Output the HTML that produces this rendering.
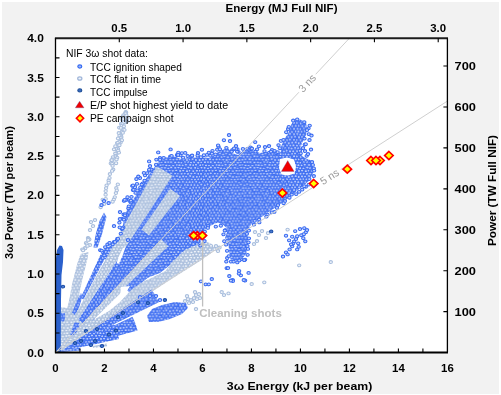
<!DOCTYPE html>
<html><head><meta charset="utf-8"><style>
html,body{margin:0;padding:0;background:#fff;}
body{width:501px;height:395px;overflow:hidden;position:relative;font-family:"Liberation Sans",sans-serif;}
#bg{position:absolute;left:2px;top:2px;width:497.4px;height:391.5px;background:#f2f2f2;}
svg{position:absolute;left:0;top:0;will-change:transform;}
.b{font-family:"Liberation Sans",sans-serif;font-weight:bold;font-size:11.4px;fill:#000;}
.t{font-family:"Liberation Sans",sans-serif;font-weight:bold;font-size:11.8px;fill:#000;}
.ns{font-family:"Liberation Sans",sans-serif;font-size:10.6px;fill:#999;}
.cl{font-family:"Liberation Sans",sans-serif;font-weight:bold;font-size:11.4px;fill:#bfbfbf;}
.l{font-family:"Liberation Sans",sans-serif;font-size:10.4px;fill:#000;}
</style></head><body><div id="bg"></div>
<svg width="501" height="395" viewBox="0 0 501 395">
<defs>
<clipPath id="pc"><rect x="55.5" y="38.2" width="391.90" height="314.40"/></clipPath>
</defs>
<rect x="55.5" y="38.2" width="391.90" height="314.40" fill="#fff"/>
<g clip-path="url(#pc)">
<defs><pattern id="pb" width="39.60" height="33.60" patternUnits="userSpaceOnUse">
<rect width="39.60" height="33.60" fill="#6f93f3"/><g fill="#c3d2fb" stroke="#3b6cf2" stroke-width="1.05">
<ellipse cx="26.7" cy="16.8" rx="1.65" ry="1.4"/>
<ellipse cx="36.7" cy="22.6" rx="1.65" ry="1.4"/>
<ellipse cx="33.4" cy="11.5" rx="1.65" ry="1.4"/>
<ellipse cx="29.7" cy="5.9" rx="1.65" ry="1.4"/>
<ellipse cx="30.9" cy="2.6" rx="1.65" ry="1.4"/>
<ellipse cx="1.2" cy="19.4" rx="1.65" ry="1.4"/>
<ellipse cx="40.8" cy="19.4" rx="1.65" ry="1.4"/>
<ellipse cx="23.0" cy="0.2" rx="1.65" ry="1.4"/>
<ellipse cx="23.0" cy="33.8" rx="1.65" ry="1.4"/>
<ellipse cx="0.4" cy="5.8" rx="1.65" ry="1.4"/>
<ellipse cx="40.0" cy="5.8" rx="1.65" ry="1.4"/>
<ellipse cx="15.1" cy="19.5" rx="1.65" ry="1.4"/>
<ellipse cx="7.7" cy="13.5" rx="1.65" ry="1.4"/>
<ellipse cx="16.1" cy="17.0" rx="1.65" ry="1.4"/>
<ellipse cx="20.1" cy="-0.5" rx="1.65" ry="1.4"/>
<ellipse cx="20.1" cy="33.1" rx="1.65" ry="1.4"/>
<ellipse cx="8.2" cy="2.8" rx="1.65" ry="1.4"/>
<ellipse cx="15.1" cy="25.3" rx="1.65" ry="1.4"/>
<ellipse cx="19.4" cy="5.7" rx="1.65" ry="1.4"/>
<ellipse cx="24.4" cy="13.8" rx="1.65" ry="1.4"/>
<ellipse cx="17.9" cy="2.3" rx="1.65" ry="1.4"/>
<ellipse cx="17.9" cy="35.9" rx="1.65" ry="1.4"/>
<ellipse cx="19.5" cy="22.2" rx="1.65" ry="1.4"/>
<ellipse cx="7.8" cy="24.8" rx="1.65" ry="1.4"/>
<ellipse cx="35.8" cy="27.7" rx="1.65" ry="1.4"/>
<ellipse cx="8.0" cy="20.0" rx="1.65" ry="1.4"/>
<ellipse cx="-1.8" cy="19.4" rx="1.65" ry="1.4"/>
<ellipse cx="37.8" cy="19.4" rx="1.65" ry="1.4"/>
<ellipse cx="22.8" cy="17.3" rx="1.65" ry="1.4"/>
<ellipse cx="36.6" cy="11.5" rx="1.65" ry="1.4"/>
<ellipse cx="5.1" cy="13.5" rx="1.65" ry="1.4"/>
<ellipse cx="26.3" cy="5.5" rx="1.65" ry="1.4"/>
<ellipse cx="25.9" cy="10.9" rx="1.65" ry="1.4"/>
<ellipse cx="26.1" cy="0.5" rx="1.65" ry="1.4"/>
<ellipse cx="26.1" cy="34.1" rx="1.65" ry="1.4"/>
<ellipse cx="21.3" cy="25.0" rx="1.65" ry="1.4"/>
<ellipse cx="8.0" cy="31.1" rx="1.65" ry="1.4"/>
<ellipse cx="28.3" cy="14.0" rx="1.65" ry="1.4"/>
<ellipse cx="3.1" cy="5.7" rx="1.65" ry="1.4"/>
<ellipse cx="-0.4" cy="0.4" rx="1.65" ry="1.4"/>
<ellipse cx="-0.4" cy="34.0" rx="1.65" ry="1.4"/>
<ellipse cx="39.2" cy="0.4" rx="1.65" ry="1.4"/>
<ellipse cx="39.2" cy="34.0" rx="1.65" ry="1.4"/>
<ellipse cx="30.9" cy="25.3" rx="1.65" ry="1.4"/>
<ellipse cx="1.1" cy="8.6" rx="1.65" ry="1.4"/>
<ellipse cx="40.7" cy="8.6" rx="1.65" ry="1.4"/>
<ellipse cx="22.9" cy="28.3" rx="1.65" ry="1.4"/>
<ellipse cx="19.8" cy="11.3" rx="1.65" ry="1.4"/>
<ellipse cx="-2.1" cy="25.6" rx="1.65" ry="1.4"/>
<ellipse cx="37.5" cy="25.6" rx="1.65" ry="1.4"/>
<ellipse cx="24.3" cy="31.0" rx="1.65" ry="1.4"/>
<ellipse cx="0.3" cy="11.2" rx="1.65" ry="1.4"/>
<ellipse cx="39.9" cy="11.2" rx="1.65" ry="1.4"/>
<ellipse cx="3.2" cy="22.1" rx="1.65" ry="1.4"/>
<ellipse cx="3.1" cy="28.1" rx="1.65" ry="1.4"/>
<ellipse cx="11.1" cy="-2.3" rx="1.65" ry="1.4"/>
<ellipse cx="11.1" cy="31.3" rx="1.65" ry="1.4"/>
<ellipse cx="11.3" cy="2.5" rx="1.65" ry="1.4"/>
<ellipse cx="29.9" cy="22.8" rx="1.65" ry="1.4"/>
<ellipse cx="10.1" cy="0.3" rx="1.65" ry="1.4"/>
<ellipse cx="10.1" cy="33.9" rx="1.65" ry="1.4"/>
<ellipse cx="32.5" cy="0.0" rx="1.65" ry="1.4"/>
<ellipse cx="32.5" cy="33.6" rx="1.65" ry="1.4"/>
<ellipse cx="29.9" cy="27.6" rx="1.65" ry="1.4"/>
<ellipse cx="9.9" cy="5.7" rx="1.65" ry="1.4"/>
<ellipse cx="18.6" cy="30.6" rx="1.65" ry="1.4"/>
<ellipse cx="9.7" cy="22.4" rx="1.65" ry="1.4"/>
<ellipse cx="23.6" cy="22.7" rx="1.65" ry="1.4"/>
<ellipse cx="27.8" cy="8.5" rx="1.65" ry="1.4"/>
<ellipse cx="-1.2" cy="8.7" rx="1.65" ry="1.4"/>
<ellipse cx="38.4" cy="8.7" rx="1.65" ry="1.4"/>
<ellipse cx="4.5" cy="30.4" rx="1.65" ry="1.4"/>
<ellipse cx="36.3" cy="5.1" rx="1.65" ry="1.4"/>
<ellipse cx="34.2" cy="24.7" rx="1.65" ry="1.4"/>
<ellipse cx="34.9" cy="19.6" rx="1.65" ry="1.4"/>
<ellipse cx="14.7" cy="-2.3" rx="1.65" ry="1.4"/>
<ellipse cx="14.7" cy="31.3" rx="1.65" ry="1.4"/>
<ellipse cx="10.0" cy="27.7" rx="1.65" ry="1.4"/>
<ellipse cx="13.2" cy="11.2" rx="1.65" ry="1.4"/>
<ellipse cx="26.8" cy="27.5" rx="1.65" ry="1.4"/>
<ellipse cx="34.8" cy="30.7" rx="1.65" ry="1.4"/>
<ellipse cx="12.8" cy="-0.5" rx="1.65" ry="1.4"/>
<ellipse cx="12.8" cy="33.1" rx="1.65" ry="1.4"/>
<ellipse cx="-0.4" cy="17.2" rx="1.65" ry="1.4"/>
<ellipse cx="39.2" cy="17.2" rx="1.65" ry="1.4"/>
<ellipse cx="7.0" cy="6.0" rx="1.65" ry="1.4"/>
<ellipse cx="14.5" cy="2.8" rx="1.65" ry="1.4"/>
<ellipse cx="5.5" cy="20.0" rx="1.65" ry="1.4"/>
<ellipse cx="13.0" cy="22.8" rx="1.65" ry="1.4"/>
<ellipse cx="4.4" cy="2.5" rx="1.65" ry="1.4"/>
<ellipse cx="4.4" cy="36.1" rx="1.65" ry="1.4"/>
<ellipse cx="25.2" cy="25.3" rx="1.65" ry="1.4"/>
<ellipse cx="12.0" cy="24.9" rx="1.65" ry="1.4"/>
<ellipse cx="21.8" cy="2.9" rx="1.65" ry="1.4"/>
<ellipse cx="11.3" cy="20.1" rx="1.65" ry="1.4"/>
<ellipse cx="9.4" cy="16.3" rx="1.65" ry="1.4"/>
<ellipse cx="34.9" cy="3.0" rx="1.65" ry="1.4"/>
<ellipse cx="18.0" cy="13.5" rx="1.65" ry="1.4"/>
<ellipse cx="17.9" cy="19.1" rx="1.65" ry="1.4"/>
<ellipse cx="18.5" cy="25.1" rx="1.65" ry="1.4"/>
<ellipse cx="27.5" cy="30.3" rx="1.65" ry="1.4"/>
<ellipse cx="26.2" cy="22.1" rx="1.65" ry="1.4"/>
<ellipse cx="24.9" cy="2.5" rx="1.65" ry="1.4"/>
<ellipse cx="24.9" cy="36.1" rx="1.65" ry="1.4"/>
<ellipse cx="1.4" cy="14.4" rx="1.65" ry="1.4"/>
<ellipse cx="41.0" cy="14.4" rx="1.65" ry="1.4"/>
<ellipse cx="32.6" cy="28.4" rx="1.65" ry="1.4"/>
<ellipse cx="31.9" cy="7.9" rx="1.65" ry="1.4"/>
<ellipse cx="5.5" cy="8.5" rx="1.65" ry="1.4"/>
<ellipse cx="3.6" cy="-0.3" rx="1.65" ry="1.4"/>
<ellipse cx="3.6" cy="33.3" rx="1.65" ry="1.4"/>
<ellipse cx="-1.9" cy="30.3" rx="1.65" ry="1.4"/>
<ellipse cx="37.7" cy="30.3" rx="1.65" ry="1.4"/>
<ellipse cx="12.7" cy="27.7" rx="1.65" ry="1.4"/>
<ellipse cx="21.9" cy="19.1" rx="1.65" ry="1.4"/>
<ellipse cx="31.8" cy="20.1" rx="1.65" ry="1.4"/>
<ellipse cx="34.1" cy="13.9" rx="1.65" ry="1.4"/>
<ellipse cx="33.0" cy="5.5" rx="1.65" ry="1.4"/>
<ellipse cx="30.1" cy="-0.5" rx="1.65" ry="1.4"/>
<ellipse cx="30.1" cy="33.1" rx="1.65" ry="1.4"/>
<ellipse cx="10.0" cy="10.9" rx="1.65" ry="1.4"/>
<ellipse cx="6.2" cy="22.6" rx="1.65" ry="1.4"/>
<ellipse cx="6.6" cy="-0.1" rx="1.65" ry="1.4"/>
<ellipse cx="6.6" cy="33.5" rx="1.65" ry="1.4"/>
<ellipse cx="31.9" cy="30.6" rx="1.65" ry="1.4"/>
<ellipse cx="33.5" cy="22.2" rx="1.65" ry="1.4"/>
<ellipse cx="6.9" cy="27.9" rx="1.65" ry="1.4"/>
<ellipse cx="12.8" cy="17.0" rx="1.65" ry="1.4"/>
<ellipse cx="4.7" cy="25.4" rx="1.65" ry="1.4"/>
<ellipse cx="2.2" cy="30.7" rx="1.65" ry="1.4"/>
<ellipse cx="41.8" cy="30.7" rx="1.65" ry="1.4"/>
<ellipse cx="31.2" cy="14.0" rx="1.65" ry="1.4"/>
<ellipse cx="1.3" cy="2.7" rx="1.65" ry="1.4"/>
<ellipse cx="40.9" cy="2.7" rx="1.65" ry="1.4"/>
<ellipse cx="21.5" cy="8.9" rx="1.65" ry="1.4"/>
<ellipse cx="23.3" cy="5.8" rx="1.65" ry="1.4"/>
<ellipse cx="8.1" cy="8.0" rx="1.65" ry="1.4"/>
<ellipse cx="6.7" cy="17.1" rx="1.65" ry="1.4"/>
<ellipse cx="1.6" cy="25.7" rx="1.65" ry="1.4"/>
<ellipse cx="41.2" cy="25.7" rx="1.65" ry="1.4"/>
<ellipse cx="16.9" cy="21.9" rx="1.65" ry="1.4"/>
<ellipse cx="15.1" cy="8.4" rx="1.65" ry="1.4"/>
<ellipse cx="-1.2" cy="2.7" rx="1.65" ry="1.4"/>
<ellipse cx="38.4" cy="2.7" rx="1.65" ry="1.4"/>
<ellipse cx="18.5" cy="8.1" rx="1.65" ry="1.4"/>
<ellipse cx="16.9" cy="-0.1" rx="1.65" ry="1.4"/>
<ellipse cx="16.9" cy="33.5" rx="1.65" ry="1.4"/>
<ellipse cx="11.6" cy="8.9" rx="1.65" ry="1.4"/>
<ellipse cx="3.4" cy="11.1" rx="1.65" ry="1.4"/>
<ellipse cx="16.8" cy="5.5" rx="1.65" ry="1.4"/>
<ellipse cx="24.8" cy="8.4" rx="1.65" ry="1.4"/>
<ellipse cx="32.9" cy="16.9" rx="1.65" ry="1.4"/>
<ellipse cx="3.3" cy="16.5" rx="1.65" ry="1.4"/>
<ellipse cx="36.1" cy="16.9" rx="1.65" ry="1.4"/>
<ellipse cx="20.3" cy="28.0" rx="1.65" ry="1.4"/>
<ellipse cx="29.3" cy="11.3" rx="1.65" ry="1.4"/>
<ellipse cx="-0.3" cy="22.6" rx="1.65" ry="1.4"/>
<ellipse cx="39.3" cy="22.6" rx="1.65" ry="1.4"/>
<ellipse cx="16.9" cy="28.1" rx="1.65" ry="1.4"/>
<ellipse cx="36.8" cy="-0.1" rx="1.65" ry="1.4"/>
<ellipse cx="36.8" cy="33.5" rx="1.65" ry="1.4"/>
<ellipse cx="-1.7" cy="13.7" rx="1.65" ry="1.4"/>
<ellipse cx="37.9" cy="13.7" rx="1.65" ry="1.4"/>
<ellipse cx="28.6" cy="3.2" rx="1.65" ry="1.4"/>
<ellipse cx="28.1" cy="19.2" rx="1.65" ry="1.4"/>
<ellipse cx="11.8" cy="13.7" rx="1.65" ry="1.4"/>
<ellipse cx="6.1" cy="11.6" rx="1.65" ry="1.4"/>
<ellipse cx="20.0" cy="16.8" rx="1.65" ry="1.4"/>
<ellipse cx="16.3" cy="11.0" rx="1.65" ry="1.4"/>
<ellipse cx="35.0" cy="8.8" rx="1.65" ry="1.4"/>
<ellipse cx="21.1" cy="14.0" rx="1.65" ry="1.4"/>
<ellipse cx="25.1" cy="20.1" rx="1.65" ry="1.4"/>
<ellipse cx="0.3" cy="28.4" rx="1.65" ry="1.4"/>
<ellipse cx="39.9" cy="28.4" rx="1.65" ry="1.4"/>
<ellipse cx="21.2" cy="30.8" rx="1.65" ry="1.4"/>
<ellipse cx="23.2" cy="11.2" rx="1.65" ry="1.4"/>
<ellipse cx="14.4" cy="14.1" rx="1.65" ry="1.4"/>
<ellipse cx="12.7" cy="5.3" rx="1.65" ry="1.4"/>
<ellipse cx="28.5" cy="25.6" rx="1.65" ry="1.4"/>
<ellipse cx="29.4" cy="17.0" rx="1.65" ry="1.4"/>
</g></pattern><pattern id="pg" width="39.60" height="33.60" patternUnits="userSpaceOnUse">
<rect width="39.60" height="33.60" fill="#c9d6ea"/><g fill="#f0f4fa" stroke="#a9bedd" stroke-width="1.05">
<ellipse cx="31.0" cy="8.8" rx="1.65" ry="1.4"/>
<ellipse cx="12.7" cy="16.4" rx="1.65" ry="1.4"/>
<ellipse cx="31.8" cy="13.6" rx="1.65" ry="1.4"/>
<ellipse cx="13.7" cy="28.4" rx="1.65" ry="1.4"/>
<ellipse cx="25.2" cy="31.1" rx="1.65" ry="1.4"/>
<ellipse cx="18.5" cy="8.6" rx="1.65" ry="1.4"/>
<ellipse cx="18.1" cy="30.8" rx="1.65" ry="1.4"/>
<ellipse cx="20.0" cy="5.6" rx="1.65" ry="1.4"/>
<ellipse cx="6.6" cy="28.0" rx="1.65" ry="1.4"/>
<ellipse cx="6.1" cy="11.0" rx="1.65" ry="1.4"/>
<ellipse cx="21.0" cy="24.8" rx="1.65" ry="1.4"/>
<ellipse cx="-1.3" cy="8.1" rx="1.65" ry="1.4"/>
<ellipse cx="38.3" cy="8.1" rx="1.65" ry="1.4"/>
<ellipse cx="12.7" cy="11.7" rx="1.65" ry="1.4"/>
<ellipse cx="8.4" cy="30.4" rx="1.65" ry="1.4"/>
<ellipse cx="25.0" cy="3.2" rx="1.65" ry="1.4"/>
<ellipse cx="-0.1" cy="22.4" rx="1.65" ry="1.4"/>
<ellipse cx="39.5" cy="22.4" rx="1.65" ry="1.4"/>
<ellipse cx="11.8" cy="19.3" rx="1.65" ry="1.4"/>
<ellipse cx="30.1" cy="5.3" rx="1.65" ry="1.4"/>
<ellipse cx="19.3" cy="22.6" rx="1.65" ry="1.4"/>
<ellipse cx="13.3" cy="0.1" rx="1.65" ry="1.4"/>
<ellipse cx="13.3" cy="33.7" rx="1.65" ry="1.4"/>
<ellipse cx="28.3" cy="3.1" rx="1.65" ry="1.4"/>
<ellipse cx="11.4" cy="2.4" rx="1.65" ry="1.4"/>
<ellipse cx="11.4" cy="36.0" rx="1.65" ry="1.4"/>
<ellipse cx="1.7" cy="8.4" rx="1.65" ry="1.4"/>
<ellipse cx="41.3" cy="8.4" rx="1.65" ry="1.4"/>
<ellipse cx="1.8" cy="14.3" rx="1.65" ry="1.4"/>
<ellipse cx="41.4" cy="14.3" rx="1.65" ry="1.4"/>
<ellipse cx="19.7" cy="-0.1" rx="1.65" ry="1.4"/>
<ellipse cx="19.7" cy="33.5" rx="1.65" ry="1.4"/>
<ellipse cx="8.0" cy="2.3" rx="1.65" ry="1.4"/>
<ellipse cx="8.0" cy="35.9" rx="1.65" ry="1.4"/>
<ellipse cx="33.5" cy="5.4" rx="1.65" ry="1.4"/>
<ellipse cx="14.4" cy="19.2" rx="1.65" ry="1.4"/>
<ellipse cx="17.9" cy="19.3" rx="1.65" ry="1.4"/>
<ellipse cx="29.6" cy="10.7" rx="1.65" ry="1.4"/>
<ellipse cx="16.0" cy="11.5" rx="1.65" ry="1.4"/>
<ellipse cx="-1.4" cy="3.0" rx="1.65" ry="1.4"/>
<ellipse cx="38.2" cy="3.0" rx="1.65" ry="1.4"/>
<ellipse cx="26.9" cy="28.1" rx="1.65" ry="1.4"/>
<ellipse cx="8.0" cy="8.1" rx="1.65" ry="1.4"/>
<ellipse cx="35.1" cy="30.8" rx="1.65" ry="1.4"/>
<ellipse cx="21.4" cy="13.7" rx="1.65" ry="1.4"/>
<ellipse cx="18.4" cy="25.1" rx="1.65" ry="1.4"/>
<ellipse cx="21.9" cy="3.1" rx="1.65" ry="1.4"/>
<ellipse cx="19.3" cy="10.9" rx="1.65" ry="1.4"/>
<ellipse cx="32.9" cy="22.4" rx="1.65" ry="1.4"/>
<ellipse cx="22.8" cy="5.4" rx="1.65" ry="1.4"/>
<ellipse cx="31.6" cy="30.5" rx="1.65" ry="1.4"/>
<ellipse cx="10.1" cy="-0.2" rx="1.65" ry="1.4"/>
<ellipse cx="10.1" cy="33.4" rx="1.65" ry="1.4"/>
<ellipse cx="11.3" cy="30.5" rx="1.65" ry="1.4"/>
<ellipse cx="3.6" cy="27.7" rx="1.65" ry="1.4"/>
<ellipse cx="9.9" cy="22.9" rx="1.65" ry="1.4"/>
<ellipse cx="14.9" cy="3.3" rx="1.65" ry="1.4"/>
<ellipse cx="1.2" cy="25.0" rx="1.65" ry="1.4"/>
<ellipse cx="40.8" cy="25.0" rx="1.65" ry="1.4"/>
<ellipse cx="36.3" cy="-0.2" rx="1.65" ry="1.4"/>
<ellipse cx="36.3" cy="33.4" rx="1.65" ry="1.4"/>
<ellipse cx="8.1" cy="19.2" rx="1.65" ry="1.4"/>
<ellipse cx="36.0" cy="22.5" rx="1.65" ry="1.4"/>
<ellipse cx="11.6" cy="8.9" rx="1.65" ry="1.4"/>
<ellipse cx="16.6" cy="-0.4" rx="1.65" ry="1.4"/>
<ellipse cx="16.6" cy="33.2" rx="1.65" ry="1.4"/>
<ellipse cx="17.0" cy="22.3" rx="1.65" ry="1.4"/>
<ellipse cx="33.5" cy="10.8" rx="1.65" ry="1.4"/>
<ellipse cx="33.1" cy="17.1" rx="1.65" ry="1.4"/>
<ellipse cx="26.1" cy="11.4" rx="1.65" ry="1.4"/>
<ellipse cx="27.6" cy="30.8" rx="1.65" ry="1.4"/>
<ellipse cx="16.6" cy="6.1" rx="1.65" ry="1.4"/>
<ellipse cx="31.2" cy="3.3" rx="1.65" ry="1.4"/>
<ellipse cx="11.8" cy="14.3" rx="1.65" ry="1.4"/>
<ellipse cx="25.0" cy="7.9" rx="1.65" ry="1.4"/>
<ellipse cx="16.3" cy="27.7" rx="1.65" ry="1.4"/>
<ellipse cx="3.4" cy="16.7" rx="1.65" ry="1.4"/>
<ellipse cx="26.9" cy="0.0" rx="1.65" ry="1.4"/>
<ellipse cx="26.9" cy="33.6" rx="1.65" ry="1.4"/>
<ellipse cx="26.1" cy="16.7" rx="1.65" ry="1.4"/>
<ellipse cx="0.5" cy="0.5" rx="1.65" ry="1.4"/>
<ellipse cx="0.5" cy="34.1" rx="1.65" ry="1.4"/>
<ellipse cx="40.1" cy="0.5" rx="1.65" ry="1.4"/>
<ellipse cx="40.1" cy="34.1" rx="1.65" ry="1.4"/>
<ellipse cx="28.2" cy="8.2" rx="1.65" ry="1.4"/>
<ellipse cx="29.6" cy="-0.3" rx="1.65" ry="1.4"/>
<ellipse cx="29.6" cy="33.3" rx="1.65" ry="1.4"/>
<ellipse cx="6.6" cy="6.0" rx="1.65" ry="1.4"/>
<ellipse cx="15.0" cy="31.0" rx="1.65" ry="1.4"/>
<ellipse cx="21.0" cy="30.8" rx="1.65" ry="1.4"/>
<ellipse cx="24.3" cy="25.6" rx="1.65" ry="1.4"/>
<ellipse cx="18.5" cy="14.2" rx="1.65" ry="1.4"/>
<ellipse cx="26.6" cy="5.2" rx="1.65" ry="1.4"/>
<ellipse cx="4.5" cy="13.8" rx="1.65" ry="1.4"/>
<ellipse cx="23.4" cy="10.8" rx="1.65" ry="1.4"/>
<ellipse cx="30.0" cy="27.6" rx="1.65" ry="1.4"/>
<ellipse cx="18.3" cy="2.5" rx="1.65" ry="1.4"/>
<ellipse cx="18.3" cy="36.1" rx="1.65" ry="1.4"/>
<ellipse cx="19.8" cy="17.3" rx="1.65" ry="1.4"/>
<ellipse cx="7.7" cy="13.9" rx="1.65" ry="1.4"/>
<ellipse cx="11.2" cy="25.3" rx="1.65" ry="1.4"/>
<ellipse cx="6.1" cy="16.9" rx="1.65" ry="1.4"/>
<ellipse cx="9.5" cy="16.3" rx="1.65" ry="1.4"/>
<ellipse cx="36.8" cy="5.8" rx="1.65" ry="1.4"/>
<ellipse cx="3.3" cy="6.1" rx="1.65" ry="1.4"/>
<ellipse cx="-1.6" cy="13.6" rx="1.65" ry="1.4"/>
<ellipse cx="38.0" cy="13.6" rx="1.65" ry="1.4"/>
<ellipse cx="21.5" cy="19.6" rx="1.65" ry="1.4"/>
<ellipse cx="34.8" cy="25.5" rx="1.65" ry="1.4"/>
<ellipse cx="34.6" cy="19.6" rx="1.65" ry="1.4"/>
<ellipse cx="3.2" cy="11.4" rx="1.65" ry="1.4"/>
<ellipse cx="16.1" cy="16.9" rx="1.65" ry="1.4"/>
<ellipse cx="0.5" cy="16.5" rx="1.65" ry="1.4"/>
<ellipse cx="40.1" cy="16.5" rx="1.65" ry="1.4"/>
<ellipse cx="31.9" cy="19.9" rx="1.65" ry="1.4"/>
<ellipse cx="9.7" cy="6.0" rx="1.65" ry="1.4"/>
<ellipse cx="7.8" cy="25.5" rx="1.65" ry="1.4"/>
<ellipse cx="7.0" cy="0.3" rx="1.65" ry="1.4"/>
<ellipse cx="7.0" cy="33.9" rx="1.65" ry="1.4"/>
<ellipse cx="1.5" cy="3.2" rx="1.65" ry="1.4"/>
<ellipse cx="41.1" cy="3.2" rx="1.65" ry="1.4"/>
<ellipse cx="35.2" cy="2.4" rx="1.65" ry="1.4"/>
<ellipse cx="35.2" cy="36.0" rx="1.65" ry="1.4"/>
<ellipse cx="36.5" cy="16.5" rx="1.65" ry="1.4"/>
<ellipse cx="35.9" cy="27.9" rx="1.65" ry="1.4"/>
<ellipse cx="19.8" cy="27.7" rx="1.65" ry="1.4"/>
<ellipse cx="24.9" cy="13.8" rx="1.65" ry="1.4"/>
<ellipse cx="35.8" cy="11.0" rx="1.65" ry="1.4"/>
<ellipse cx="15.0" cy="7.9" rx="1.65" ry="1.4"/>
<ellipse cx="2.8" cy="-0.5" rx="1.65" ry="1.4"/>
<ellipse cx="2.8" cy="33.1" rx="1.65" ry="1.4"/>
<ellipse cx="29.4" cy="16.9" rx="1.65" ry="1.4"/>
<ellipse cx="-0.3" cy="11.6" rx="1.65" ry="1.4"/>
<ellipse cx="39.3" cy="11.6" rx="1.65" ry="1.4"/>
<ellipse cx="4.4" cy="19.1" rx="1.65" ry="1.4"/>
<ellipse cx="31.6" cy="24.7" rx="1.65" ry="1.4"/>
<ellipse cx="9.5" cy="11.4" rx="1.65" ry="1.4"/>
<ellipse cx="-0.0" cy="5.6" rx="1.65" ry="1.4"/>
<ellipse cx="39.6" cy="5.6" rx="1.65" ry="1.4"/>
<ellipse cx="23.6" cy="17.3" rx="1.65" ry="1.4"/>
<ellipse cx="27.6" cy="13.9" rx="1.65" ry="1.4"/>
<ellipse cx="13.6" cy="5.6" rx="1.65" ry="1.4"/>
<ellipse cx="23.0" cy="28.2" rx="1.65" ry="1.4"/>
<ellipse cx="4.8" cy="25.7" rx="1.65" ry="1.4"/>
<ellipse cx="26.8" cy="22.6" rx="1.65" ry="1.4"/>
<ellipse cx="2.9" cy="22.0" rx="1.65" ry="1.4"/>
<ellipse cx="32.5" cy="-0.5" rx="1.65" ry="1.4"/>
<ellipse cx="32.5" cy="33.1" rx="1.65" ry="1.4"/>
<ellipse cx="1.6" cy="19.6" rx="1.65" ry="1.4"/>
<ellipse cx="41.2" cy="19.6" rx="1.65" ry="1.4"/>
<ellipse cx="28.2" cy="25.7" rx="1.65" ry="1.4"/>
<ellipse cx="-1.6" cy="19.1" rx="1.65" ry="1.4"/>
<ellipse cx="38.0" cy="19.1" rx="1.65" ry="1.4"/>
<ellipse cx="-1.4" cy="30.7" rx="1.65" ry="1.4"/>
<ellipse cx="38.2" cy="30.7" rx="1.65" ry="1.4"/>
<ellipse cx="21.9" cy="8.1" rx="1.65" ry="1.4"/>
<ellipse cx="1.2" cy="30.3" rx="1.65" ry="1.4"/>
<ellipse cx="40.8" cy="30.3" rx="1.65" ry="1.4"/>
<ellipse cx="5.4" cy="-2.3" rx="1.65" ry="1.4"/>
<ellipse cx="5.4" cy="31.3" rx="1.65" ry="1.4"/>
<ellipse cx="27.7" cy="20.0" rx="1.65" ry="1.4"/>
<ellipse cx="-0.2" cy="28.0" rx="1.65" ry="1.4"/>
<ellipse cx="39.4" cy="28.0" rx="1.65" ry="1.4"/>
<ellipse cx="29.2" cy="22.3" rx="1.65" ry="1.4"/>
<ellipse cx="15.3" cy="14.3" rx="1.65" ry="1.4"/>
<ellipse cx="22.7" cy="22.2" rx="1.65" ry="1.4"/>
<ellipse cx="34.7" cy="13.9" rx="1.65" ry="1.4"/>
<ellipse cx="10.4" cy="28.3" rx="1.65" ry="1.4"/>
<ellipse cx="5.0" cy="2.9" rx="1.65" ry="1.4"/>
<ellipse cx="32.8" cy="28.5" rx="1.65" ry="1.4"/>
<ellipse cx="13.3" cy="22.2" rx="1.65" ry="1.4"/>
<ellipse cx="34.2" cy="8.4" rx="1.65" ry="1.4"/>
<ellipse cx="6.9" cy="22.3" rx="1.65" ry="1.4"/>
<ellipse cx="23.3" cy="0.5" rx="1.65" ry="1.4"/>
<ellipse cx="23.3" cy="34.1" rx="1.65" ry="1.4"/>
<ellipse cx="14.7" cy="25.2" rx="1.65" ry="1.4"/>
<ellipse cx="-1.4" cy="25.2" rx="1.65" ry="1.4"/>
<ellipse cx="38.2" cy="25.2" rx="1.65" ry="1.4"/>
<ellipse cx="5.1" cy="8.5" rx="1.65" ry="1.4"/>
<ellipse cx="24.5" cy="19.8" rx="1.65" ry="1.4"/>
</g></pattern><pattern id="pd" width="39.60" height="33.60" patternUnits="userSpaceOnUse">
<rect width="39.60" height="33.60" fill="#2f62c0"/><g fill="#4a7ad0" stroke="#1c4ea8" stroke-width="1.05">
<ellipse cx="6.7" cy="-0.5" rx="1.65" ry="1.4"/>
<ellipse cx="6.7" cy="33.1" rx="1.65" ry="1.4"/>
<ellipse cx="15.3" cy="8.9" rx="1.65" ry="1.4"/>
<ellipse cx="28.1" cy="31.0" rx="1.65" ry="1.4"/>
<ellipse cx="10.1" cy="16.4" rx="1.65" ry="1.4"/>
<ellipse cx="1.2" cy="30.4" rx="1.65" ry="1.4"/>
<ellipse cx="40.8" cy="30.4" rx="1.65" ry="1.4"/>
<ellipse cx="10.0" cy="11.3" rx="1.65" ry="1.4"/>
<ellipse cx="28.4" cy="24.7" rx="1.65" ry="1.4"/>
<ellipse cx="21.4" cy="19.5" rx="1.65" ry="1.4"/>
<ellipse cx="21.1" cy="25.5" rx="1.65" ry="1.4"/>
<ellipse cx="14.7" cy="3.1" rx="1.65" ry="1.4"/>
<ellipse cx="16.9" cy="5.7" rx="1.65" ry="1.4"/>
<ellipse cx="23.6" cy="11.2" rx="1.65" ry="1.4"/>
<ellipse cx="8.5" cy="14.3" rx="1.65" ry="1.4"/>
<ellipse cx="0.1" cy="6.0" rx="1.65" ry="1.4"/>
<ellipse cx="39.7" cy="6.0" rx="1.65" ry="1.4"/>
<ellipse cx="13.7" cy="28.4" rx="1.65" ry="1.4"/>
<ellipse cx="-0.3" cy="0.0" rx="1.65" ry="1.4"/>
<ellipse cx="-0.3" cy="33.6" rx="1.65" ry="1.4"/>
<ellipse cx="39.3" cy="0.0" rx="1.65" ry="1.4"/>
<ellipse cx="39.3" cy="33.6" rx="1.65" ry="1.4"/>
<ellipse cx="11.8" cy="8.2" rx="1.65" ry="1.4"/>
<ellipse cx="14.8" cy="30.7" rx="1.65" ry="1.4"/>
<ellipse cx="31.5" cy="2.6" rx="1.65" ry="1.4"/>
<ellipse cx="29.2" cy="22.7" rx="1.65" ry="1.4"/>
<ellipse cx="-0.1" cy="28.0" rx="1.65" ry="1.4"/>
<ellipse cx="39.5" cy="28.0" rx="1.65" ry="1.4"/>
<ellipse cx="29.4" cy="27.8" rx="1.65" ry="1.4"/>
<ellipse cx="32.6" cy="28.1" rx="1.65" ry="1.4"/>
<ellipse cx="3.5" cy="22.4" rx="1.65" ry="1.4"/>
<ellipse cx="19.5" cy="11.0" rx="1.65" ry="1.4"/>
<ellipse cx="21.2" cy="7.9" rx="1.65" ry="1.4"/>
<ellipse cx="17.0" cy="-0.0" rx="1.65" ry="1.4"/>
<ellipse cx="17.0" cy="33.6" rx="1.65" ry="1.4"/>
<ellipse cx="36.4" cy="10.7" rx="1.65" ry="1.4"/>
<ellipse cx="16.8" cy="21.9" rx="1.65" ry="1.4"/>
<ellipse cx="31.1" cy="13.9" rx="1.65" ry="1.4"/>
<ellipse cx="25.2" cy="25.5" rx="1.65" ry="1.4"/>
<ellipse cx="36.2" cy="5.2" rx="1.65" ry="1.4"/>
<ellipse cx="4.8" cy="30.9" rx="1.65" ry="1.4"/>
<ellipse cx="11.0" cy="13.5" rx="1.65" ry="1.4"/>
<ellipse cx="-1.2" cy="19.3" rx="1.65" ry="1.4"/>
<ellipse cx="38.4" cy="19.3" rx="1.65" ry="1.4"/>
<ellipse cx="31.5" cy="8.0" rx="1.65" ry="1.4"/>
<ellipse cx="8.6" cy="30.7" rx="1.65" ry="1.4"/>
<ellipse cx="21.9" cy="2.4" rx="1.65" ry="1.4"/>
<ellipse cx="21.9" cy="36.0" rx="1.65" ry="1.4"/>
<ellipse cx="32.5" cy="5.9" rx="1.65" ry="1.4"/>
<ellipse cx="9.5" cy="27.5" rx="1.65" ry="1.4"/>
<ellipse cx="21.6" cy="13.8" rx="1.65" ry="1.4"/>
<ellipse cx="26.8" cy="16.7" rx="1.65" ry="1.4"/>
<ellipse cx="3.3" cy="11.2" rx="1.65" ry="1.4"/>
<ellipse cx="21.4" cy="31.0" rx="1.65" ry="1.4"/>
<ellipse cx="31.8" cy="20.1" rx="1.65" ry="1.4"/>
<ellipse cx="18.1" cy="3.3" rx="1.65" ry="1.4"/>
<ellipse cx="26.5" cy="0.4" rx="1.65" ry="1.4"/>
<ellipse cx="26.5" cy="34.0" rx="1.65" ry="1.4"/>
<ellipse cx="23.6" cy="22.8" rx="1.65" ry="1.4"/>
<ellipse cx="34.1" cy="8.8" rx="1.65" ry="1.4"/>
<ellipse cx="5.4" cy="7.9" rx="1.65" ry="1.4"/>
<ellipse cx="13.6" cy="6.1" rx="1.65" ry="1.4"/>
<ellipse cx="30.1" cy="6.1" rx="1.65" ry="1.4"/>
<ellipse cx="32.6" cy="22.2" rx="1.65" ry="1.4"/>
<ellipse cx="27.9" cy="14.1" rx="1.65" ry="1.4"/>
<ellipse cx="16.9" cy="16.7" rx="1.65" ry="1.4"/>
<ellipse cx="36.6" cy="17.2" rx="1.65" ry="1.4"/>
<ellipse cx="20.2" cy="-0.0" rx="1.65" ry="1.4"/>
<ellipse cx="20.2" cy="33.6" rx="1.65" ry="1.4"/>
<ellipse cx="3.6" cy="16.5" rx="1.65" ry="1.4"/>
<ellipse cx="11.5" cy="25.5" rx="1.65" ry="1.4"/>
<ellipse cx="26.5" cy="10.7" rx="1.65" ry="1.4"/>
<ellipse cx="29.6" cy="11.3" rx="1.65" ry="1.4"/>
<ellipse cx="3.5" cy="6.1" rx="1.65" ry="1.4"/>
<ellipse cx="18.2" cy="25.5" rx="1.65" ry="1.4"/>
<ellipse cx="24.3" cy="2.5" rx="1.65" ry="1.4"/>
<ellipse cx="24.3" cy="36.1" rx="1.65" ry="1.4"/>
<ellipse cx="8.0" cy="25.6" rx="1.65" ry="1.4"/>
<ellipse cx="15.2" cy="19.3" rx="1.65" ry="1.4"/>
<ellipse cx="28.6" cy="2.7" rx="1.65" ry="1.4"/>
<ellipse cx="13.7" cy="11.2" rx="1.65" ry="1.4"/>
<ellipse cx="5.3" cy="19.8" rx="1.65" ry="1.4"/>
<ellipse cx="15.0" cy="14.5" rx="1.65" ry="1.4"/>
<ellipse cx="6.1" cy="27.6" rx="1.65" ry="1.4"/>
<ellipse cx="33.2" cy="-0.5" rx="1.65" ry="1.4"/>
<ellipse cx="33.2" cy="33.1" rx="1.65" ry="1.4"/>
<ellipse cx="16.4" cy="11.4" rx="1.65" ry="1.4"/>
<ellipse cx="-1.6" cy="14.3" rx="1.65" ry="1.4"/>
<ellipse cx="38.0" cy="14.3" rx="1.65" ry="1.4"/>
<ellipse cx="27.7" cy="8.3" rx="1.65" ry="1.4"/>
<ellipse cx="22.9" cy="17.0" rx="1.65" ry="1.4"/>
<ellipse cx="13.0" cy="16.6" rx="1.65" ry="1.4"/>
<ellipse cx="-1.9" cy="8.9" rx="1.65" ry="1.4"/>
<ellipse cx="37.7" cy="8.9" rx="1.65" ry="1.4"/>
<ellipse cx="26.2" cy="5.1" rx="1.65" ry="1.4"/>
<ellipse cx="6.8" cy="11.3" rx="1.65" ry="1.4"/>
<ellipse cx="20.2" cy="16.4" rx="1.65" ry="1.4"/>
<ellipse cx="32.5" cy="11.3" rx="1.65" ry="1.4"/>
<ellipse cx="24.7" cy="30.5" rx="1.65" ry="1.4"/>
<ellipse cx="33.0" cy="16.5" rx="1.65" ry="1.4"/>
<ellipse cx="11.1" cy="19.4" rx="1.65" ry="1.4"/>
<ellipse cx="18.1" cy="31.0" rx="1.65" ry="1.4"/>
<ellipse cx="29.7" cy="0.3" rx="1.65" ry="1.4"/>
<ellipse cx="29.7" cy="33.9" rx="1.65" ry="1.4"/>
<ellipse cx="22.9" cy="28.2" rx="1.65" ry="1.4"/>
<ellipse cx="13.3" cy="22.2" rx="1.65" ry="1.4"/>
<ellipse cx="18.2" cy="8.9" rx="1.65" ry="1.4"/>
<ellipse cx="27.5" cy="20.1" rx="1.65" ry="1.4"/>
<ellipse cx="23.3" cy="-0.4" rx="1.65" ry="1.4"/>
<ellipse cx="23.3" cy="33.2" rx="1.65" ry="1.4"/>
<ellipse cx="34.6" cy="20.1" rx="1.65" ry="1.4"/>
<ellipse cx="16.0" cy="28.0" rx="1.65" ry="1.4"/>
<ellipse cx="34.9" cy="13.5" rx="1.65" ry="1.4"/>
<ellipse cx="5.4" cy="2.8" rx="1.65" ry="1.4"/>
<ellipse cx="20.0" cy="5.3" rx="1.65" ry="1.4"/>
<ellipse cx="25.2" cy="19.2" rx="1.65" ry="1.4"/>
<ellipse cx="34.6" cy="-2.4" rx="1.65" ry="1.4"/>
<ellipse cx="34.6" cy="31.2" rx="1.65" ry="1.4"/>
<ellipse cx="17.9" cy="14.0" rx="1.65" ry="1.4"/>
<ellipse cx="19.6" cy="27.8" rx="1.65" ry="1.4"/>
<ellipse cx="6.4" cy="22.2" rx="1.65" ry="1.4"/>
<ellipse cx="12.9" cy="-0.3" rx="1.65" ry="1.4"/>
<ellipse cx="12.9" cy="33.3" rx="1.65" ry="1.4"/>
<ellipse cx="26.5" cy="27.8" rx="1.65" ry="1.4"/>
<ellipse cx="20.2" cy="22.6" rx="1.65" ry="1.4"/>
<ellipse cx="8.4" cy="7.9" rx="1.65" ry="1.4"/>
<ellipse cx="6.3" cy="16.7" rx="1.65" ry="1.4"/>
<ellipse cx="36.5" cy="27.9" rx="1.65" ry="1.4"/>
<ellipse cx="18.0" cy="19.5" rx="1.65" ry="1.4"/>
<ellipse cx="31.5" cy="25.6" rx="1.65" ry="1.4"/>
<ellipse cx="5.1" cy="13.8" rx="1.65" ry="1.4"/>
<ellipse cx="8.6" cy="19.4" rx="1.65" ry="1.4"/>
<ellipse cx="8.5" cy="3.2" rx="1.65" ry="1.4"/>
<ellipse cx="1.6" cy="25.7" rx="1.65" ry="1.4"/>
<ellipse cx="41.2" cy="25.7" rx="1.65" ry="1.4"/>
<ellipse cx="-1.9" cy="25.2" rx="1.65" ry="1.4"/>
<ellipse cx="37.7" cy="25.2" rx="1.65" ry="1.4"/>
<ellipse cx="11.8" cy="3.3" rx="1.65" ry="1.4"/>
<ellipse cx="5.1" cy="25.0" rx="1.65" ry="1.4"/>
<ellipse cx="36.5" cy="22.4" rx="1.65" ry="1.4"/>
<ellipse cx="24.9" cy="7.9" rx="1.65" ry="1.4"/>
<ellipse cx="9.4" cy="0.4" rx="1.65" ry="1.4"/>
<ellipse cx="9.4" cy="34.0" rx="1.65" ry="1.4"/>
<ellipse cx="26.8" cy="22.5" rx="1.65" ry="1.4"/>
<ellipse cx="34.7" cy="2.7" rx="1.65" ry="1.4"/>
<ellipse cx="0.4" cy="11.1" rx="1.65" ry="1.4"/>
<ellipse cx="40.0" cy="11.1" rx="1.65" ry="1.4"/>
<ellipse cx="14.7" cy="24.9" rx="1.65" ry="1.4"/>
<ellipse cx="1.3" cy="19.4" rx="1.65" ry="1.4"/>
<ellipse cx="40.9" cy="19.4" rx="1.65" ry="1.4"/>
<ellipse cx="1.4" cy="2.3" rx="1.65" ry="1.4"/>
<ellipse cx="1.4" cy="35.9" rx="1.65" ry="1.4"/>
<ellipse cx="41.0" cy="2.3" rx="1.65" ry="1.4"/>
<ellipse cx="41.0" cy="35.9" rx="1.65" ry="1.4"/>
<ellipse cx="-0.2" cy="16.5" rx="1.65" ry="1.4"/>
<ellipse cx="39.4" cy="16.5" rx="1.65" ry="1.4"/>
<ellipse cx="-1.8" cy="2.9" rx="1.65" ry="1.4"/>
<ellipse cx="37.8" cy="2.9" rx="1.65" ry="1.4"/>
<ellipse cx="36.6" cy="0.1" rx="1.65" ry="1.4"/>
<ellipse cx="36.6" cy="33.7" rx="1.65" ry="1.4"/>
<ellipse cx="9.6" cy="21.9" rx="1.65" ry="1.4"/>
<ellipse cx="1.8" cy="14.0" rx="1.65" ry="1.4"/>
<ellipse cx="41.4" cy="14.0" rx="1.65" ry="1.4"/>
<ellipse cx="1.4" cy="8.7" rx="1.65" ry="1.4"/>
<ellipse cx="41.0" cy="8.7" rx="1.65" ry="1.4"/>
<ellipse cx="3.6" cy="27.5" rx="1.65" ry="1.4"/>
<ellipse cx="3.2" cy="0.1" rx="1.65" ry="1.4"/>
<ellipse cx="3.2" cy="33.7" rx="1.65" ry="1.4"/>
<ellipse cx="7.0" cy="6.1" rx="1.65" ry="1.4"/>
<ellipse cx="29.4" cy="16.4" rx="1.65" ry="1.4"/>
<ellipse cx="10.1" cy="5.2" rx="1.65" ry="1.4"/>
<ellipse cx="0.3" cy="22.8" rx="1.65" ry="1.4"/>
<ellipse cx="39.9" cy="22.8" rx="1.65" ry="1.4"/>
<ellipse cx="11.9" cy="30.9" rx="1.65" ry="1.4"/>
<ellipse cx="30.9" cy="30.7" rx="1.65" ry="1.4"/>
<ellipse cx="34.2" cy="24.9" rx="1.65" ry="1.4"/>
<ellipse cx="23.5" cy="5.7" rx="1.65" ry="1.4"/>
<ellipse cx="24.6" cy="13.8" rx="1.65" ry="1.4"/>
<ellipse cx="-1.2" cy="30.7" rx="1.65" ry="1.4"/>
<ellipse cx="38.4" cy="30.7" rx="1.65" ry="1.4"/>
</g></pattern><ellipse id="mb" rx="1.65" ry="1.4" fill="#c3d2fb" stroke="#3b6cf2" stroke-width="1.05"/><ellipse id="mg" rx="1.65" ry="1.4" fill="#f0f4fa" stroke="#a9bedd" stroke-width="1.05"/><ellipse id="md" rx="1.65" ry="1.4" fill="#4a7ad0" stroke="#1c4ea8" stroke-width="1.05"/></defs>
<polygon points="119.4,286.6 112.0,270.0 101.0,252.0 107.0,247.0 113.0,245.0 118.0,239.0 122.4,228.4 124.0,219.0 127.0,210.0 131.5,202.6 136.0,195.0 145.0,180.0 158.8,161.0 166.0,157.5 174.8,156.5 181.0,159.0 190.0,158.0 200.0,157.0 210.0,158.0 218.0,152.0 222.0,150.0 228.0,148.0 232.0,153.0 238.0,155.0 244.0,150.0 252.0,150.0 260.0,153.0 266.0,152.0 274.0,152.0 280.0,154.0 280.5,156.6 281.0,147.0 283.5,140.0 288.5,133.0 291.0,125.0 294.0,120.0 300.0,119.5 306.0,122.0 307.0,128.0 306.0,135.0 303.0,141.0 300.5,147.0 300.0,154.0 305.0,158.0 310.0,160.0 314.5,170.0 309.0,181.0 298.3,189.8 287.5,198.7 274.9,207.7 258.7,219.0 252.0,223.0 247.4,231.0 248.0,240.0 246.5,252.8 242.0,259.6 236.0,261.0 230.6,259.6 229.4,252.8 228.3,243.7 225.0,238.0 227.9,229.5 223.7,225.3 218.0,222.5 214.0,224.0 208.4,226.7 205.6,229.5 204.0,235.0 199.0,246.0 191.0,250.0 183.0,255.0 175.0,261.0 167.7,267.0 160.0,273.0 147.0,278.0 135.0,283.0 124.6,284.0" fill="url(#pb)" />
<polygon points="55.5,352.6 94.1,327.5 90.0,322.1 85.1,317.4 79.5,313.4 73.5,310.3 67.0,308.1 60.3,306.9 55.5,352.6" fill="url(#pg)" />
<polygon points="55.5,352.6 99.5,343.2 98.9,340.6 98.0,337.9 97.1,335.4 95.9,332.9 94.7,330.4 93.2,328.1 55.5,352.6" fill="url(#pb)" />
<polygon points="55.5,352.6 80.4,350.4 80.4,349.9 80.3,349.4 80.2,348.9 80.1,348.4 80.1,347.9 80.0,347.4 55.5,352.6" fill="url(#pb)" />
<polygon points="66.0,327.0 72.0,322.0 79.0,323.0 80.0,333.0 72.0,337.0" fill="url(#pb)" />
<polygon points="61.0,313.0 65.0,313.0 65.0,321.0 61.0,322.0" fill="url(#pb)" />
<polygon points="84.0,313.0 95.0,313.0 95.0,326.0 88.0,327.0" fill="url(#pb)" />
<polygon points="82.8,323.3 151.0,250.2 148.3,247.7 145.5,245.4 142.7,243.0 139.8,240.8 136.8,238.6 133.8,236.5 77.9,319.4 78.7,320.0 79.6,320.7 80.4,321.3 81.2,322.0 82.0,322.6" fill="url(#pb)" />
<polygon points="58.0,345.0 62.0,330.0 66.0,313.0 69.2,299.8 72.2,283.6 77.3,263.4 80.5,254.0 88.5,252.0 87.4,259.3 82.3,279.6 79.3,293.8 77.3,313.0 72.0,330.0 63.0,350.0" fill="url(#pg)" />
<polygon points="72.0,313.0 77.0,300.0 81.0,293.0 82.5,296.0 79.0,308.0 75.0,315.0" fill="url(#pb)" />
<polygon points="93.5,247.5 97.5,247.5 101.5,236.0 106.5,217.0 104.0,212.5 99.5,221.0 95.5,235.0" fill="url(#pb)" />
<polygon points="83.4,299.5 107.6,253.4 106.7,253.0 105.8,252.5 104.9,252.1 104.1,251.7 103.2,251.3 102.3,250.8 80.6,298.1 81.0,298.3 81.5,298.5 82.0,298.8 82.5,299.0 82.9,299.2" fill="url(#pb)" />
<polygon points="78.4,319.8 172.5,175.8 169.9,174.1 167.3,172.5 164.7,170.9 162.0,169.3 159.4,167.8 156.7,166.3 74.0,317.1 74.7,317.5 75.5,318.0 76.3,318.4 77.0,318.9 77.7,319.3" fill="url(#pg)" />
<polygon points="148.9,235.2 180.0,196.1 178.4,194.8 176.8,193.6 175.2,192.3 173.5,191.1 171.9,189.9 170.2,188.8 141.5,229.7 142.8,230.6 144.0,231.5 145.2,232.4 146.5,233.3 147.7,234.3" fill="url(#pg)" />
<polygon points="79.1,334.1 168.3,246.3 167.2,245.1 166.0,243.9 164.8,242.7 163.6,241.5 162.4,240.4 161.2,239.2 76.0,330.7 76.5,331.2 77.1,331.8 77.6,332.3 78.1,332.9 78.6,333.5" fill="url(#pg)" />
<polygon points="129.3,292.8 172.1,258.2 170.9,256.8 169.7,255.3 168.4,253.9 167.2,252.5 165.9,251.1 164.7,249.7 124.6,287.4 125.4,288.3 126.2,289.2 127.0,290.1 127.8,291.0 128.6,291.9" fill="url(#pb)" />
<polygon points="60.0,349.0 72.0,336.0 90.0,322.0 109.0,311.0 120.0,302.0 131.0,290.0 135.0,287.0 144.4,281.0 150.2,278.5 165.4,271.0 172.0,262.0 184.7,250.0 200.7,243.0 207.0,242.0 211.0,243.5 214.0,247.0 212.0,252.5 200.0,260.9 170.0,280.1 140.0,299.4 110.0,318.6 80.0,337.9 62.0,350.7" fill="url(#pg)" />
<polygon points="95.9,332.9 158.9,302.2 157.8,300.0 156.6,297.8 155.4,295.7 154.2,293.6 152.9,291.5 151.6,289.5 93.1,327.9 93.6,328.7 94.1,329.5 94.6,330.3 95.1,331.2 95.5,332.0" fill="url(#pb)" />
<polygon points="121.0,287.0 130.0,286.0 127.0,291.0 120.0,296.0" fill="#ffffff" />
<polygon points="147.0,316.0 152.0,309.0 162.0,305.0 175.0,302.0 186.0,303.0 188.0,308.0 182.0,314.0 170.0,319.0 158.0,322.0 149.0,322.0" fill="url(#pb)" />
<polygon points="115.4,336.6 137.6,330.6 136.9,328.2 136.2,325.9 135.4,323.5 134.5,321.2 133.5,318.9 132.5,316.7 111.7,326.4 112.4,328.0 113.1,329.7 113.8,331.4 114.4,333.1 114.9,334.8" fill="url(#pb)" />
<polygon points="94.6,344.3 119.1,339.1 118.5,336.5 117.8,334.0 117.0,331.4 116.0,329.0 115.0,326.5 113.9,324.1 91.5,335.1 92.1,336.5 92.8,338.0 93.3,339.6 93.8,341.1 94.3,342.7" fill="url(#pb)" />
<polygon points="93.2,348.0 107.1,346.3 107.1,345.8 107.0,345.4 106.9,344.9 106.9,344.5 106.8,344.0 106.7,343.6 92.9,346.0 93.0,346.3 93.0,346.7 93.1,347.0 93.1,347.3 93.2,347.6" fill="url(#pg)" />
<polygon points="116.5,263.5 119.0,256.0 123.0,248.0 125.5,247.0 122.5,256.0 119.0,263.5" fill="#ffffff" />
<polygon points="55.5,352.6 55.5,262.0 57.0,250.0 59.5,245.5 62.0,246.0 63.5,250.0 63.0,262.0 61.5,275.0 61.0,300.0 60.8,352.6" fill="#2a60cc" />
<use href="#mb" x="283.0" y="256.5"/>
<use href="#mb" x="286.0" y="252.4"/>
<use href="#mb" x="289.6" y="249.4"/>
<use href="#mb" x="292.2" y="246.3"/>
<use href="#mb" x="293.2" y="243.3"/>
<use href="#mb" x="289.1" y="240.3"/>
<use href="#mb" x="286.0" y="235.7"/>
<use href="#mb" x="292.2" y="236.7"/>
<use href="#mb" x="295.2" y="231.1"/>
<use href="#mb" x="297.2" y="236.2"/>
<use href="#mb" x="298.2" y="243.3"/>
<use href="#mb" x="297.2" y="249.4"/>
<use href="#mb" x="298.7" y="246.8"/>
<use href="#mb" x="301.3" y="235.2"/>
<use href="#mb" x="303.3" y="238.2"/>
<use href="#mb" x="304.3" y="228.1"/>
<use href="#mb" x="305.8" y="232.2"/>
<use href="#mb" x="305.3" y="241.3"/>
<use href="#mb" x="303.8" y="234.2"/>
<use href="#mb" x="294.2" y="241.3"/>
<use href="#mb" x="291.1" y="244.3"/>
<use href="#mb" x="287.6" y="254.4"/>
<use href="#mb" x="300.0" y="229.0"/>
<use href="#mb" x="307.0" y="230.0"/>
<use href="#mb" x="296.0" y="239.0"/>
<use href="#mg" x="287.6" y="229.6"/>
<use href="#mg" x="299.2" y="265.3"/>
<use href="#mg" x="330.8" y="262.0"/>
<use href="#mg" x="264.3" y="282.3"/>
<use href="#mg" x="251.7" y="284.0"/>
<use href="#mg" x="255.0" y="232.0"/>
<use href="#mg" x="259.0" y="235.0"/>
<use href="#mg" x="262.0" y="231.0"/>
<use href="#mg" x="266.0" y="238.0"/>
<use href="#mg" x="257.0" y="241.0"/>
<use href="#mg" x="254.0" y="244.0"/>
<use href="#mg" x="268.0" y="233.0"/>
<use href="#md" x="271.2" y="231.4"/>
<use href="#mb" x="240.9" y="275.3"/>
<use href="#mb" x="245.1" y="280.5"/>
<use href="#mb" x="243.8" y="280.0"/>
<use href="#mb" x="226.7" y="268.1"/>
<use href="#mb" x="248.6" y="272.9"/>
<use href="#mb" x="237.3" y="262.4"/>
<use href="#mb" x="239.1" y="270.9"/>
<use href="#mb" x="226.3" y="261.6"/>
<use href="#mb" x="232.7" y="279.8"/>
<use href="#mb" x="244.4" y="260.1"/>
<use href="#mb" x="245.1" y="259.6"/>
<use href="#mb" x="240.8" y="259.3"/>
<use href="#mb" x="231.0" y="261.6"/>
<use href="#mb" x="232.9" y="281.0"/>
<use href="#mb" x="238.9" y="273.6"/>
<use href="#mb" x="230.9" y="280.5"/>
<use href="#mb" x="229.0" y="135.0"/>
<use href="#mb" x="230.0" y="141.0"/>
<use href="#mb" x="236.0" y="146.0"/>
<use href="#mb" x="192.0" y="156.0"/>
<use href="#mb" x="198.0" y="153.0"/>
<use href="#mb" x="269.0" y="146.0"/>
<use href="#mb" x="272.0" y="150.0"/>
<use href="#mb" x="177.0" y="155.0"/>
<use href="#mb" x="160.0" y="158.0"/>
<use href="#mb" x="265.0" y="147.0"/>
<use href="#mb" x="150.0" y="166.0"/>
<use href="#mb" x="140.0" y="178.0"/>
<use href="#mb" x="133.0" y="190.0"/>
<use href="#mb" x="126.0" y="200.0"/>
<use href="#mb" x="120.0" y="212.0"/>
<use href="#mb" x="114.0" y="226.0"/>
<use href="#mg" x="125.7" y="111.9"/>
<use href="#mg" x="126.1" y="112.5"/>
<use href="#mg" x="125.1" y="113.6"/>
<use href="#mg" x="125.6" y="113.4"/>
<use href="#mg" x="123.4" y="115.2"/>
<use href="#mg" x="126.4" y="115.3"/>
<use href="#mg" x="123.0" y="116.3"/>
<use href="#mg" x="127.4" y="118.1"/>
<use href="#mg" x="121.5" y="118.9"/>
<use href="#mg" x="123.6" y="119.0"/>
<use href="#mg" x="126.8" y="121.0"/>
<use href="#mg" x="126.5" y="121.4"/>
<use href="#mg" x="125.1" y="122.5"/>
<use href="#mg" x="123.8" y="122.0"/>
<use href="#mg" x="121.1" y="123.7"/>
<use href="#mg" x="122.2" y="124.1"/>
<use href="#mg" x="121.7" y="125.8"/>
<use href="#mg" x="123.9" y="126.3"/>
<use href="#mg" x="119.2" y="127.6"/>
<use href="#mg" x="120.9" y="127.9"/>
<use href="#mg" x="123.4" y="129.7"/>
<use href="#mg" x="124.4" y="129.9"/>
<use href="#mg" x="121.9" y="131.7"/>
<use href="#mg" x="121.9" y="131.8"/>
<use href="#mg" x="118.8" y="133.0"/>
<use href="#mg" x="122.8" y="132.8"/>
<use href="#mg" x="120.6" y="135.3"/>
<use href="#mg" x="121.0" y="135.5"/>
<use href="#mg" x="119.5" y="135.8"/>
<use href="#mg" x="121.4" y="137.1"/>
<use href="#mg" x="120.8" y="138.0"/>
<use href="#mg" x="118.0" y="138.4"/>
<use href="#mg" x="120.8" y="139.9"/>
<use href="#mg" x="121.9" y="140.2"/>
<use href="#mg" x="120.6" y="142.5"/>
<use href="#mg" x="119.1" y="141.9"/>
<use href="#mg" x="117.2" y="142.8"/>
<use href="#mg" x="117.7" y="142.9"/>
<use href="#mg" x="118.6" y="144.9"/>
<use href="#mg" x="119.4" y="145.2"/>
<use href="#mg" x="115.7" y="147.1"/>
<use href="#mg" x="115.4" y="146.2"/>
<use href="#mg" x="117.9" y="148.6"/>
<use href="#mg" x="116.2" y="149.0"/>
<use href="#mg" x="114.0" y="149.3"/>
<use href="#mg" x="118.2" y="150.5"/>
<use href="#mg" x="117.2" y="152.8"/>
<use href="#mg" x="118.9" y="152.6"/>
<use href="#mg" x="115.5" y="153.4"/>
<use href="#mg" x="115.4" y="153.6"/>
<use href="#mg" x="115.8" y="155.7"/>
<use href="#mg" x="115.4" y="156.3"/>
<use href="#mg" x="112.9" y="157.1"/>
<use href="#mg" x="117.2" y="157.6"/>
<use href="#mg" x="112.7" y="159.3"/>
<use href="#mg" x="116.5" y="159.4"/>
<use href="#mg" x="111.6" y="160.7"/>
<use href="#mg" x="111.7" y="160.0"/>
<use href="#mg" x="113.1" y="163.1"/>
<use href="#mg" x="116.1" y="163.2"/>
<use href="#mg" x="110.8" y="163.3"/>
<use href="#mg" x="112.2" y="163.9"/>
<use href="#mg" x="112.6" y="165.8"/>
<use href="#mg" x="113.2" y="169.5"/>
<use href="#mg" x="112.1" y="170.9"/>
<use href="#mg" x="109.9" y="174.0"/>
<use href="#mg" x="109.5" y="177.9"/>
<use href="#mg" x="108.6" y="180.5"/>
<use href="#mg" x="108.7" y="182.7"/>
<use href="#mg" x="106.6" y="185.3"/>
<use href="#mg" x="106.1" y="188.1"/>
<use href="#mg" x="105.7" y="191.1"/>
<use href="#mg" x="105.6" y="194.7"/>
<use href="#mg" x="105.7" y="198.9"/>
<use href="#mg" x="102.7" y="199.6"/>
<use href="#mg" x="104.1" y="204.0"/>
<use href="#mg" x="100.6" y="207.2"/>
<use href="#mg" x="117.8" y="184.4"/>
<use href="#mg" x="116.3" y="188.0"/>
<use href="#mg" x="116.8" y="190.3"/>
<use href="#mg" x="115.9" y="193.0"/>
<use href="#mg" x="114.8" y="197.1"/>
<use href="#mg" x="113.8" y="199.5"/>
<use href="#mg" x="112.6" y="201.7"/>
<use href="#mg" x="91.0" y="222.0"/>
<use href="#mg" x="93.0" y="226.0"/>
<use href="#mg" x="95.0" y="220.0"/>
<use href="#mg" x="90.0" y="230.0"/>
<use href="#mg" x="88.0" y="238.0"/>
<use href="#mg" x="86.0" y="243.0"/>
<use href="#mg" x="90.0" y="245.0"/>
<use href="#mg" x="85.0" y="248.0"/>
<use href="#mb" x="100.2" y="250.1"/>
<use href="#mb" x="105.2" y="247.1"/>
<use href="#mb" x="107.5" y="244.3"/>
<use href="#mb" x="114.1" y="241.8"/>
<use href="#mb" x="116.7" y="240.4"/>
<use href="#mb" x="117.4" y="238.7"/>
<use href="#mb" x="120.8" y="233.6"/>
<use href="#mb" x="122.0" y="229.1"/>
<use href="#mb" x="123.2" y="227.4"/>
<use href="#mb" x="121.9" y="218.6"/>
<use href="#mb" x="123.7" y="214.5"/>
<use href="#mb" x="125.1" y="214.2"/>
<use href="#mb" x="128.4" y="208.3"/>
<use href="#mb" x="130.8" y="202.4"/>
<use href="#mb" x="129.7" y="200.8"/>
<use href="#mb" x="131.5" y="196.8"/>
<use href="#mb" x="135.6" y="192.9"/>
<use href="#mb" x="137.4" y="190.4"/>
<use href="#mb" x="140.5" y="188.8"/>
<use href="#mb" x="142.8" y="183.3"/>
<use href="#mb" x="144.6" y="180.6"/>
<use href="#mb" x="145.0" y="175.3"/>
<use href="#mb" x="147.2" y="173.1"/>
<use href="#mb" x="149.2" y="170.6"/>
<use href="#mb" x="151.3" y="169.5"/>
<use href="#mb" x="156.1" y="164.7"/>
<use href="#mb" x="156.4" y="159.6"/>
<use href="#mb" x="160.0" y="159.7"/>
<use href="#mb" x="163.7" y="157.8"/>
<use href="#mb" x="170.3" y="156.3"/>
<use href="#mb" x="170.6" y="157.4"/>
<use href="#mb" x="180.4" y="155.4"/>
<use href="#mb" x="183.1" y="157.6"/>
<use href="#mb" x="187.7" y="156.0"/>
<use href="#mb" x="190.9" y="156.3"/>
<use href="#mb" x="197.6" y="155.5"/>
<use href="#mb" x="200.9" y="157.2"/>
<use href="#mb" x="207.0" y="154.8"/>
<use href="#mb" x="210.4" y="155.7"/>
<use href="#mb" x="215.5" y="154.4"/>
<use href="#mb" x="217.2" y="149.7"/>
<use href="#mb" x="226.4" y="147.8"/>
<use href="#mb" x="232.2" y="150.2"/>
<use href="#mb" x="238.4" y="151.9"/>
<use href="#mb" x="237.2" y="151.6"/>
<use href="#mb" x="242.9" y="148.9"/>
<use href="#mb" x="247.5" y="148.8"/>
<use href="#mb" x="249.5" y="149.8"/>
<use href="#mb" x="255.5" y="151.5"/>
<use href="#mb" x="257.1" y="149.3"/>
<use href="#mb" x="264.5" y="151.1"/>
<use href="#mb" x="269.3" y="152.6"/>
<use href="#mb" x="271.0" y="151.6"/>
<use href="#mb" x="276.5" y="153.0"/>
<use href="#mb" x="280.6" y="154.1"/>
<use href="#mb" x="277.6" y="152.1"/>
<use href="#mb" x="279.8" y="148.2"/>
<use href="#mb" x="278.5" y="145.1"/>
<use href="#mb" x="280.9" y="140.9"/>
<use href="#mb" x="283.5" y="139.9"/>
<use href="#mb" x="286.2" y="132.2"/>
<use href="#mb" x="288.1" y="129.0"/>
<use href="#mb" x="288.8" y="126.8"/>
<use href="#mb" x="293.2" y="120.5"/>
<use href="#mb" x="297.2" y="119.4"/>
<use href="#mb" x="304.3" y="122.1"/>
<use href="#mb" x="309.7" y="125.6"/>
<use href="#mb" x="308.5" y="128.3"/>
<use href="#mb" x="308.8" y="134.1"/>
<use href="#mb" x="304.5" y="138.6"/>
<use href="#mb" x="304.8" y="144.6"/>
<use href="#mb" x="300.0" y="150.2"/>
<use href="#mb" x="299.8" y="150.8"/>
<use href="#mb" x="300.7" y="153.3"/>
<use href="#mb" x="306.7" y="155.8"/>
<use href="#mb" x="310.7" y="162.3"/>
<use href="#mb" x="312.8" y="164.9"/>
<use href="#mb" x="313.8" y="168.3"/>
<use href="#mb" x="314.1" y="170.6"/>
<use href="#mb" x="313.8" y="176.0"/>
<use href="#mb" x="309.3" y="179.1"/>
<use href="#mb" x="308.8" y="184.6"/>
<use href="#mb" x="305.8" y="186.7"/>
<use href="#mb" x="304.3" y="186.2"/>
<use href="#mb" x="302.2" y="189.5"/>
<use href="#mb" x="299.1" y="191.8"/>
<use href="#mb" x="296.2" y="194.1"/>
<use href="#mb" x="291.7" y="194.5"/>
<use href="#mb" x="289.4" y="197.7"/>
<use href="#mb" x="284.9" y="201.0"/>
<use href="#mb" x="283.6" y="203.2"/>
<use href="#mb" x="278.0" y="205.0"/>
<use href="#mb" x="276.9" y="207.8"/>
<use href="#mb" x="274.3" y="211.9"/>
<use href="#mb" x="271.8" y="212.3"/>
<use href="#mb" x="267.5" y="214.6"/>
<use href="#mb" x="266.4" y="216.6"/>
<use href="#mb" x="259.1" y="219.5"/>
<use href="#mb" x="259.3" y="222.4"/>
<use href="#mb" x="254.7" y="220.8"/>
<use href="#mb" x="254.0" y="224.5"/>
<use href="#mb" x="248.8" y="230.5"/>
<use href="#mb" x="246.9" y="233.8"/>
<use href="#mb" x="248.9" y="238.3"/>
<use href="#mb" x="248.5" y="242.3"/>
<use href="#mb" x="247.4" y="246.0"/>
<use href="#mb" x="247.9" y="248.9"/>
<use href="#mb" x="247.6" y="254.8"/>
<use href="#mb" x="244.2" y="260.1"/>
<use href="#mb" x="239.3" y="260.4"/>
<use href="#mb" x="233.6" y="261.6"/>
<use href="#mb" x="227.2" y="258.0"/>
<use href="#mb" x="228.8" y="256.1"/>
<use href="#mb" x="227.1" y="250.8"/>
<use href="#mb" x="226.1" y="244.5"/>
<use href="#mb" x="224.3" y="241.2"/>
<use href="#mb" x="223.5" y="234.3"/>
<use href="#mb" x="225.6" y="230.2"/>
<use href="#mb" x="224.8" y="230.5"/>
<use href="#mb" x="220.8" y="225.7"/>
<use href="#mb" x="215.8" y="226.6"/>
<use href="#mb" x="208.1" y="226.0"/>
<use href="#mb" x="207.8" y="227.9"/>
<use href="#mb" x="204.8" y="231.6"/>
<use href="#mb" x="202.6" y="236.8"/>
<use href="#mb" x="204.5" y="241.0"/>
<use href="#mb" x="200.4" y="245.5"/>
<use href="#md" x="138.0" y="302.2"/>
<use href="#md" x="147.9" y="303.0"/>
<use href="#md" x="164.9" y="300.0"/>
<use href="#md" x="118.0" y="317.0"/>
<use href="#md" x="97.0" y="329.0"/>
<use href="#md" x="109.0" y="334.5"/>
<use href="#md" x="116.0" y="330.5"/>
<use href="#md" x="95.0" y="341.0"/>
<use href="#md" x="91.0" y="345.0"/>
<use href="#md" x="81.0" y="341.0"/>
<use href="#md" x="86.0" y="331.0"/>
<use href="#md" x="63.0" y="286.6"/>
<use href="#md" x="75.0" y="343.0"/>
<use href="#md" x="102.0" y="346.0"/>
<use href="#md" x="123.0" y="313.0"/>
<use href="#mb" x="101.5" y="205.0"/>
<use href="#mb" x="104.0" y="201.0"/>
<use href="#mb" x="108.6" y="203.0"/>
<use href="#mb" x="128.0" y="240.0"/>
<use href="#mb" x="160.0" y="300.0"/>
<use href="#mb" x="156.0" y="296.0"/>
<use href="#mb" x="140.0" y="297.0"/>
<use href="#mb" x="150.0" y="296.0"/>
<use href="#mb" x="201.0" y="281.3"/>
<use href="#mb" x="205.7" y="284.3"/>
<use href="#mb" x="208.8" y="284.3"/>
<use href="#mb" x="211.8" y="279.0"/>
<use href="#mb" x="229.3" y="276.0"/>
<use href="#mb" x="228.0" y="268.0"/>
<use href="#mb" x="305.7" y="144.2"/>
<use href="#mb" x="311.0" y="149.5"/>
<use href="#mb" x="305.0" y="151.0"/>
<use href="#mb" x="308.0" y="154.0"/>
<use href="#mb" x="312.0" y="162.0"/>
<use href="#mb" x="311.5" y="135.5"/>
<use href="#mb" x="307.0" y="130.0"/>
<use href="#mb" x="309.5" y="140.0"/>
<use href="#mb" x="303.0" y="148.0"/>
<use href="#mg" x="185.0" y="301.0"/>
<use href="#mg" x="188.0" y="299.0"/>
<use href="#mg" x="191.0" y="300.0"/>
<use href="#mg" x="194.0" y="298.0"/>
<use href="#mg" x="197.0" y="299.0"/>
<use href="#mg" x="189.0" y="303.0"/>
<use href="#mg" x="193.0" y="302.0"/>
<use href="#mg" x="196.0" y="295.0"/>
<use href="#mg" x="195.0" y="292.0"/>
<use href="#mg" x="199.0" y="294.0"/>
<use href="#mg" x="187.0" y="296.0"/>
<use href="#mg" x="200.0" y="298.0"/>
<use href="#mg" x="221.7" y="292.0"/>
<use href="#mg" x="224.0" y="295.0"/>
<use href="#mg" x="228.5" y="293.4"/>
<use href="#mg" x="196.0" y="309.0"/>
<use href="#mg" x="211.0" y="245.8"/>
<use href="#mg" x="214.5" y="249.0"/>
<use href="#mg" x="218.0" y="251.0"/>
<use href="#mg" x="216.0" y="246.0"/>
<use href="#mg" x="219.5" y="247.5"/>
<use href="#mg" x="85.2" y="248.3"/>
<use href="#mg" x="83.3" y="249.6"/>
<use href="#mg" x="82.3" y="249.3"/>
<use href="#mg" x="88.4" y="238.5"/>
<use href="#mg" x="86.9" y="244.1"/>
<use href="#mg" x="87.5" y="245.9"/>
<use href="#mg" x="83.1" y="250.3"/>
<use href="#mg" x="89.3" y="239.5"/>
<use href="#mg" x="88.2" y="239.9"/>
<use href="#mb" x="171.6" y="155.9"/>
<use href="#mb" x="136.4" y="179.0"/>
<use href="#mb" x="208.8" y="152.7"/>
<use href="#mb" x="203.9" y="155.2"/>
<use href="#mb" x="233.5" y="149.3"/>
<use href="#mb" x="237.4" y="149.2"/>
<use href="#mb" x="250.5" y="147.4"/>
<use href="#mb" x="141.7" y="184.5"/>
<use href="#mb" x="231.6" y="151.6"/>
<use href="#mb" x="218.6" y="146.8"/>
<use href="#mb" x="127.5" y="197.2"/>
<use href="#mb" x="124.0" y="200.9"/>
<use href="#mb" x="250.8" y="149.1"/>
<use href="#mb" x="235.9" y="148.9"/>
<use href="#mb" x="135.0" y="187.2"/>
<use href="#mb" x="132.3" y="185.9"/>
<use href="#mb" x="223.9" y="140.2"/>
<use href="#mb" x="130.9" y="200.5"/>
<use href="#mb" x="212.5" y="150.8"/>
<use href="#mb" x="138.3" y="176.5"/>
<use href="#mb" x="251.9" y="148.5"/>
<use href="#mb" x="137.0" y="183.8"/>
<use href="#mb" x="178.3" y="152.7"/>
<use href="#mb" x="192.1" y="155.5"/>
<use href="#mb" x="128.8" y="206.3"/>
<use href="#mb" x="185.2" y="152.9"/>
<use href="#mb" x="181.9" y="153.1"/>
<use href="#mb" x="201.9" y="149.7"/>
<use href="#mb" x="219.9" y="149.2"/>
<use href="#mb" x="140.4" y="187.4"/>
<use href="#mb" x="124.7" y="199.8"/>
<use href="#mb" x="258.9" y="146.3"/>
<use href="#mb" x="133.5" y="189.8"/>
<use href="#mb" x="133.0" y="185.4"/>
<use href="#mb" x="218.1" y="145.4"/>
<use href="#mb" x="211.9" y="153.5"/>
<use href="#mb" x="255.2" y="142.1"/>
<use href="#mb" x="149.2" y="169.7"/>
<use href="#mb" x="234.1" y="148.4"/>
<use href="#mb" x="178.1" y="154.9"/>
<use href="#mb" x="274.6" y="150.8"/>
<use href="#mb" x="143.9" y="172.9"/>
<use href="#mb" x="149.1" y="161.4"/>
<use href="#mb" x="158.2" y="152.4"/>
<use href="#mb" x="170.6" y="149.4"/>
<use href="#mb" x="122.4" y="228.3"/>
<use href="#mb" x="112.6" y="244.3"/>
<use href="#mb" x="119.4" y="222.6"/>
<use href="#mb" x="125.0" y="215.3"/>
<use href="#mb" x="118.0" y="238.8"/>
<use href="#mb" x="109.7" y="243.5"/>
<use href="#mb" x="101.7" y="250.6"/>
<use href="#mb" x="119.7" y="227.3"/>
<use href="#mb" x="109.6" y="242.8"/>
<use href="#mb" x="123.9" y="219.5"/>
<use href="#mb" x="119.9" y="219.0"/>
<use href="#mb" x="115.0" y="241.9"/>
<line x1="55.50" y1="352.60" x2="298.90" y2="92.24" stroke="#cfcfcf" stroke-width="1.0"/>
<line x1="315.70" y1="74.27" x2="349.42" y2="38.20" stroke="#cfcfcf" stroke-width="1.0"/>
<line x1="55.50" y1="352.60" x2="318.50" y2="183.81" stroke="#cfcfcf" stroke-width="1.0"/>
<line x1="340.70" y1="169.56" x2="447.40" y2="101.08" stroke="#cfcfcf" stroke-width="1.0"/>
<text transform="translate(307.3,83.4) rotate(-46.93)" text-anchor="middle" dy="3.4" class="ns">3 ns</text>
<text transform="translate(329.6,176.9) rotate(-32.69)" text-anchor="middle" dy="3.4" class="ns">5 ns</text>
<polygon points="280,159 287,157.5 294,159.5 296,167 294.5,173.5 288,175.5 281.5,174.5 279,168" fill="#fff"/>
<path d="M287.7 160.6 L294.2 171.4 L281.3 171.4 Z" fill="#f00000" stroke="#5060b0" stroke-width="0.3"/>
<path d="M380.0 156.5 L384.2 160.5 L380.0 164.5 L375.8 160.5 Z" fill="#ffff00" stroke="#ff0000" stroke-width="1.7"/>
<path d="M371.0 156.5 L375.2 160.5 L371.0 164.5 L366.8 160.5 Z" fill="#ffff00" stroke="#ff0000" stroke-width="1.7"/>
<path d="M376.0 156.5 L380.2 160.5 L376.0 164.5 L371.8 160.5 Z" fill="#ffff00" stroke="#ff0000" stroke-width="1.7"/>
<path d="M388.9 151.5 L393.1 155.5 L388.9 159.5 L384.7 155.5 Z" fill="#ffff00" stroke="#ff0000" stroke-width="1.7"/>
<path d="M347.3 165.2 L351.5 169.2 L347.3 173.2 L343.1 169.2 Z" fill="#ffff00" stroke="#ff0000" stroke-width="1.7"/>
<path d="M313.7 179.5 L317.9 183.5 L313.7 187.5 L309.5 183.5 Z" fill="#ffff00" stroke="#ff0000" stroke-width="1.7"/>
<path d="M282.4 189.0 L286.6 193.0 L282.4 197.0 L278.2 193.0 Z" fill="#ffff00" stroke="#ff0000" stroke-width="1.7"/>
<path d="M197.2 231.6 L201.4 235.6 L197.2 239.6 L193.0 235.6 Z" fill="#ffff00" stroke="#ff0000" stroke-width="1.7"/>
<path d="M193.6 231.6 L197.8 235.6 L193.6 239.6 L189.4 235.6 Z" fill="#ffff00" stroke="#ff0000" stroke-width="1.7"/>
<path d="M202.4 231.6 L206.6 235.6 L202.4 239.6 L198.2 235.6 Z" fill="#ffff00" stroke="#ff0000" stroke-width="1.7"/>
<line x1="202.6" y1="306.5" x2="202.6" y2="243" stroke="#bfbfbf" stroke-width="1.3"/>
<path d="M202.6 240 L205.2 245.5 L200 245.5 Z" fill="#bfbfbf"/>
<text x="199.3" y="316.6" class="cl" textLength="82.5" lengthAdjust="spacingAndGlyphs">Cleaning shots</text>
</g>
<path d="M54.90 38.20H448.00" stroke="#1c1c1c" stroke-width="1.9"/>
<path d="M54.90 352.60H448.00" stroke="#000" stroke-width="2.0"/>
<path d="M55.50 38.20V352.60" stroke="#000" stroke-width="1.3"/>
<path d="M447.40 38.20V352.60" stroke="#000" stroke-width="1.3"/>
<path d="M79.99 352.60V348.60 M104.49 352.60V348.60 M128.98 352.60V348.60 M153.47 352.60V348.60 M177.97 352.60V348.60 M202.46 352.60V348.60 M226.96 352.60V348.60 M251.45 352.60V348.60 M275.94 352.60V348.60 M300.44 352.60V348.60 M324.93 352.60V348.60 M349.42 352.60V348.60 M373.92 352.60V348.60 M398.41 352.60V348.60 M422.91 352.60V348.60 M55.50 332.95H59.50 M55.50 313.30H59.50 M55.50 293.65H59.50 M55.50 274.00H59.50 M55.50 254.35H59.50 M55.50 234.70H59.50 M55.50 215.05H59.50 M55.50 195.40H59.50 M55.50 175.75H59.50 M55.50 156.10H59.50 M55.50 136.45H59.50 M55.50 116.80H59.50 M55.50 97.15H59.50 M55.50 77.50H59.50 M55.50 57.85H59.50 M447.40 311.66H443.40 M447.40 270.73H443.40 M447.40 229.79H443.40 M447.40 188.85H443.40 M447.40 147.91H443.40 M447.40 106.97H443.40 M447.40 66.04H443.40 M119.29 38.20V42.20 M183.07 38.20V42.20 M246.86 38.20V42.20 M310.64 38.20V42.20 M374.43 38.20V42.20 M438.21 38.20V42.20" stroke="#000" stroke-width="1.1" fill="none"/>
<text x="43.8" y="356.60" text-anchor="end" class="b" textLength="16.6" lengthAdjust="spacingAndGlyphs">0.0</text><text x="43.8" y="317.30" text-anchor="end" class="b" textLength="16.6" lengthAdjust="spacingAndGlyphs">0.5</text><text x="43.8" y="278.00" text-anchor="end" class="b" textLength="16.6" lengthAdjust="spacingAndGlyphs">1.0</text><text x="43.8" y="238.70" text-anchor="end" class="b" textLength="16.6" lengthAdjust="spacingAndGlyphs">1.5</text><text x="43.8" y="199.40" text-anchor="end" class="b" textLength="16.6" lengthAdjust="spacingAndGlyphs">2.0</text><text x="43.8" y="160.10" text-anchor="end" class="b" textLength="16.6" lengthAdjust="spacingAndGlyphs">2.5</text><text x="43.8" y="120.80" text-anchor="end" class="b" textLength="16.6" lengthAdjust="spacingAndGlyphs">3.0</text><text x="43.8" y="81.50" text-anchor="end" class="b" textLength="16.6" lengthAdjust="spacingAndGlyphs">3.5</text><text x="43.8" y="42.20" text-anchor="end" class="b" textLength="16.6" lengthAdjust="spacingAndGlyphs">4.0</text><text x="55.50" y="372.4" text-anchor="middle" class="b">0</text><text x="104.49" y="372.4" text-anchor="middle" class="b">2</text><text x="153.47" y="372.4" text-anchor="middle" class="b">4</text><text x="202.46" y="372.4" text-anchor="middle" class="b">6</text><text x="251.45" y="372.4" text-anchor="middle" class="b">8</text><text x="300.44" y="372.4" text-anchor="middle" class="b">10</text><text x="349.42" y="372.4" text-anchor="middle" class="b">12</text><text x="398.41" y="372.4" text-anchor="middle" class="b">14</text><text x="447.40" y="372.4" text-anchor="middle" class="b">16</text><text x="119.29" y="32.1" text-anchor="middle" class="b">0.5</text><text x="183.07" y="32.1" text-anchor="middle" class="b">1.0</text><text x="246.86" y="32.1" text-anchor="middle" class="b">1.5</text><text x="310.64" y="32.1" text-anchor="middle" class="b">2.0</text><text x="374.43" y="32.1" text-anchor="middle" class="b">2.5</text><text x="438.21" y="32.1" text-anchor="middle" class="b">3.0</text><text x="454.6" y="315.66" class="b" textLength="21.4" lengthAdjust="spacingAndGlyphs">100</text><text x="454.6" y="274.73" class="b" textLength="21.4" lengthAdjust="spacingAndGlyphs">200</text><text x="454.6" y="233.79" class="b" textLength="21.4" lengthAdjust="spacingAndGlyphs">300</text><text x="454.6" y="192.85" class="b" textLength="21.4" lengthAdjust="spacingAndGlyphs">400</text><text x="454.6" y="151.91" class="b" textLength="21.4" lengthAdjust="spacingAndGlyphs">500</text><text x="454.6" y="110.97" class="b" textLength="21.4" lengthAdjust="spacingAndGlyphs">600</text><text x="454.6" y="70.04" class="b" textLength="21.4" lengthAdjust="spacingAndGlyphs">700</text>
<text x="225.5" y="12.2" class="t" textLength="112" lengthAdjust="spacingAndGlyphs">Energy (MJ Full NIF)</text>
<text x="226.8" y="390.1" class="t" textLength="145.5" lengthAdjust="spacingAndGlyphs">3ω Energy (kJ per beam)</text>
<text transform="translate(13.0,259) rotate(-90)" class="t" textLength="133" lengthAdjust="spacingAndGlyphs">3ω Power (TW per beam)</text>
<text transform="translate(496.4,246) rotate(-90)" class="t" textLength="111" lengthAdjust="spacingAndGlyphs">Power (TW Full NIF)</text>
<text x="66" y="57" class="l" textLength="81.8" lengthAdjust="spacingAndGlyphs">NIF 3ω shot data:</text>
<text x="89.9" y="71.1" class="l" textLength="92.0" lengthAdjust="spacingAndGlyphs">TCC ignition shaped</text>
<text x="89.9" y="83.4" class="l" textLength="71.1" lengthAdjust="spacingAndGlyphs">TCC flat in time</text>
<text x="89.9" y="95.9" class="l" textLength="57.7" lengthAdjust="spacingAndGlyphs">TCC impulse</text>
<text x="89.9" y="108.6" class="l" textLength="138.3" lengthAdjust="spacingAndGlyphs">E/P shot highest yield to date</text>
<text x="89.9" y="121.6" class="l" textLength="83.6" lengthAdjust="spacingAndGlyphs">PE campaign shot</text>
<ellipse cx="79.8" cy="66.5" rx="2" ry="1.6" fill="#9db6f7" stroke="#2f66f2" stroke-width="1.1"/>
<ellipse cx="79.8" cy="78.5" rx="2.1" ry="1.7" fill="#eef3fa" stroke="#9fb5d9" stroke-width="1.2"/>
<ellipse cx="79.8" cy="90.4" rx="2" ry="1.6" fill="#3a6cc0" stroke="#1f4e96" stroke-width="1.1"/>
<path d="M79.6 101.2 L84 107.8 L75.3 107.8 Z" fill="#f00000" stroke="#4050a0" stroke-width="0.3"/>
<path d="M80 114.6 L83.6 118.2 L80 121.8 L76.4 118.2 Z" fill="#ffff00" stroke="#ff0000" stroke-width="1.6"/>
</svg>
</body></html>
